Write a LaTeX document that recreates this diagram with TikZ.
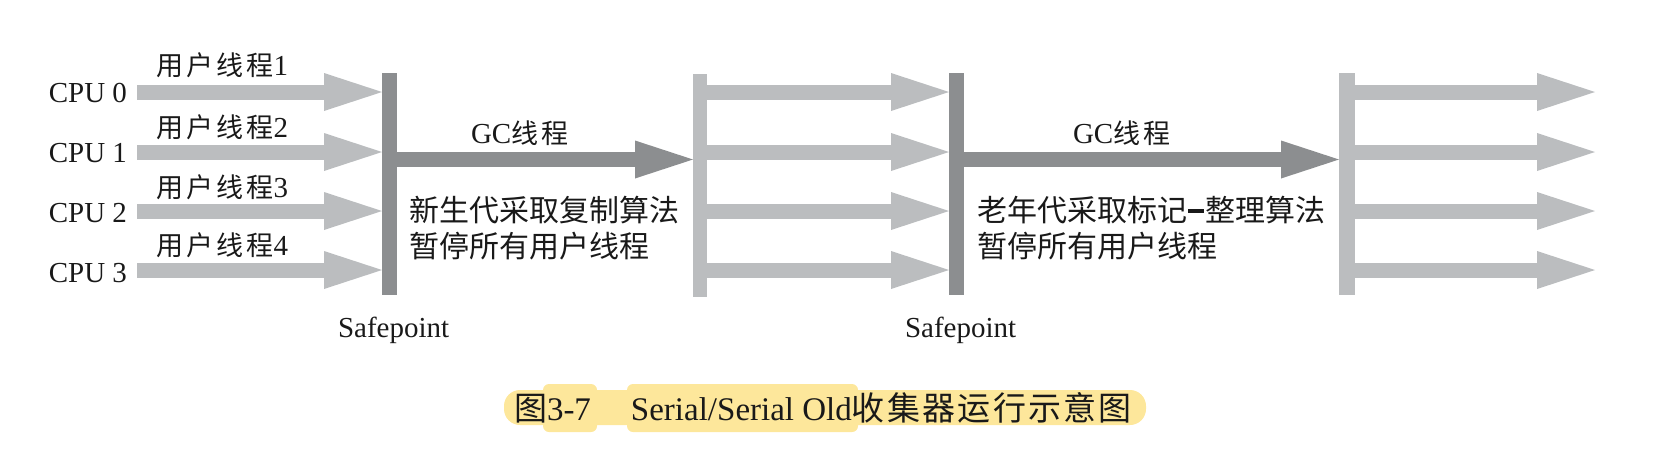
\documentclass[tikz,border=0pt]{standalone}
\usepackage{fontspec}
\setmainfont{Liberation Serif}
\newfontfamily\cjk{Noto Sans CJK SC}
\usetikzlibrary{arrows.meta}
\definecolor{darkbar}{RGB}{140,142,144}
\definecolor{lightbar}{RGB}{187,189,191}
\definecolor{hl}{RGB}{253,231,155}
\definecolor{ink}{RGB}{25,25,25}
\newcommand\zhtext[1]{{\cjk #1}}
\newcommand\zhsp[1]{{\cjk\addfontfeature{LetterSpace=12}#1}}
\begin{document}
\begin{tikzpicture}[x=1pt,y=-1pt,
  bar/.style={draw=none,inner sep=0pt,outer sep=0pt,minimum width=15pt,minimum height=222pt},
  darkbarnode/.style={bar,fill=darkbar},
  lightbarnode/.style={bar,fill=lightbar},
  blockarrow/.style={line width=15pt,-{Triangle[length=58pt,width=38pt,line width=0pt]}},
  lightarrow/.style={blockarrow,draw=lightbar,fill=lightbar},
  darkarrow/.style={blockarrow,draw=darkbar,fill=darkbar},
  txt/.style={inner sep=0pt,outer sep=0pt,text=ink},
  lat/.style={txt,font=\fontsize{29}{32}\selectfont},
  small/.style={txt,font=\fontsize{27}{30}\selectfont},
  big/.style={txt,font=\fontsize{30}{34}\selectfont\cjk},
  captext/.style={txt,font=\fontsize{33}{36}\selectfont}
]
\useasboundingbox (0,0) rectangle (1660,456);

% bars
\node[darkbarnode] (sp1) at (389.5,184) {};
\node[lightbarnode,minimum width=14pt,minimum height=223pt] (b2) at (700,185.5) {};
\node[darkbarnode] (sp2) at (956.5,184) {};
\node[lightbarnode,minimum width=16pt] (b4) at (1347,184) {};

% row coordinates
\coordinate (r0) at (137,92);
\coordinate (r1) at (137,152);
\coordinate (r2) at (137,211);
\coordinate (r3) at (137,270);
\coordinate (g) at (0,159.5);
\coordinate (e0) at (1595,92);
\coordinate (e1) at (1595,152);
\coordinate (e2) at (1595,211);
\coordinate (e3) at (1595,270);

% user thread arrows into first safepoint
\foreach \i in {0,...,3}{
  \draw[lightarrow] (r\i) -- (r\i -| sp1.west);
}
% GC arrow 1
\draw[darkarrow] (sp1.east |- g) -- (b2.west |- g);
% user thread arrows into second safepoint
\foreach \i in {0,...,3}{
  \draw[lightarrow] (b2.east |- r\i) -- (sp2.west |- r\i);
}
% GC arrow 2
\draw[darkarrow] (sp2.east |- g) -- (b4.west |- g);
% final user thread arrows
\foreach \i in {0,...,3}{
  \draw[lightarrow] (b4.east |- e\i) -- (e\i);
}

% CPU labels
\node[lat,anchor=base east] (cpu0) at (127,102) {CPU 0};
\node[lat,anchor=base east] (cpu1) at (127,162) {CPU 1};
\node[lat,anchor=base east] (cpu2) at (127,222) {CPU 2};
\node[lat,anchor=base east] (cpu3) at (127,282) {CPU 3};

% user thread labels
\node[small,anchor=base west] (u1) at (156,75) {\zhsp{用户线程}{\fontsize{29}{32}\selectfont 1}};
\node[small,anchor=base west] (u2) at (156,137) {\zhsp{用户线程}{\fontsize{29}{32}\selectfont 2}};
\node[small,anchor=base west] (u3) at (156,197) {\zhsp{用户线程}{\fontsize{29}{32}\selectfont 3}};
\node[small,anchor=base west] (u4) at (156,255) {\zhsp{用户线程}{\fontsize{29}{32}\selectfont 4}};

% GC labels
\node[lat,anchor=base west] (gc1) at (471,143) {GC{\fontsize{27}{30}\selectfont\zhsp{线程}}};
\node[lat,anchor=base west] (gc2) at (1073,143) {GC{\fontsize{27}{30}\selectfont\zhsp{线程}}};

% descriptions
\node[big,anchor=base west] (d1a) at (409,221) {新生代采取复制算法};
\node[big,anchor=base west] (d1b) at (409,257) {暂停所有用户线程};
\node[big,anchor=base west] (d2a) at (977,221) {老年代采取标记\hspace{1pt}\rule[8.5pt]{16pt}{3.5pt}\hspace{1pt}整理算法};
\node[big,anchor=base west] (d2b) at (977,257) {暂停所有用户线程};

% safepoint labels
\node[lat,anchor=base west] (s1) at (338,337) {Safepoint};
\node[lat,anchor=base west] (s2) at (905,337) {Safepoint};

% caption highlight
\fill[hl,rounded corners=16pt] (504,390) rectangle (1146,425);
\fill[hl,rounded corners=6pt] (543,384) rectangle (597,432);
\fill[hl,rounded corners=6pt] (627,384) rectangle (858,432);
\node[captext,anchor=base west] (caption) at (514,420)
  {\zhtext{图}3-7\hspace{40pt}Serial/Serial Old{\cjk\addfontfeature{LetterSpace=7}收集器运行示意图}};
\end{tikzpicture}
\end{document}
